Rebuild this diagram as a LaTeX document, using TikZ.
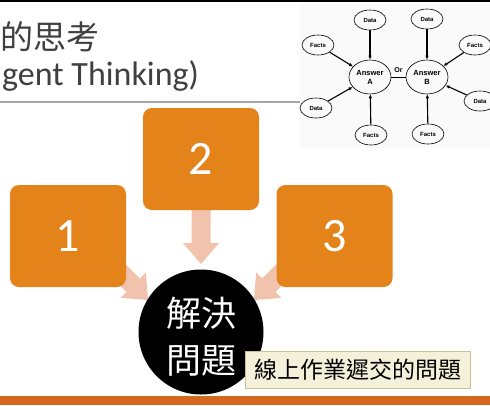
\documentclass[tikz,border=0pt]{standalone}
\usepackage{fontspec}
\setmainfont{Carlito}
\newfontfamily\cjk{Noto Sans CJK TC}
\newfontfamily\minifont{Liberation Sans}
\usetikzlibrary{arrows.meta,positioning,shapes.geometric}
\definecolor{boxorange}{HTML}{E4831A}
\definecolor{arrowpink}{HTML}{F1C3AD}
\definecolor{titlegray}{HTML}{404040}
\definecolor{notefill}{HTML}{F4F0D9}
\definecolor{noteline}{HTML}{C9C38E}
\definecolor{barorange}{HTML}{D3691F}

\tikzset{
  numbox/.style={fill=boxorange, rounded corners=9pt, minimum width=116pt, minimum height=102pt, text=white, font=\fontsize{48}{48}\selectfont},
  answer/.style={draw, ellipse, line width=0.6pt, minimum width=42pt, minimum height=34pt, inner sep=0pt, align=center, font=\minifont\bfseries\fontsize{7.5}{9}\selectfont},
  leaf/.style={draw, ellipse, line width=0.6pt, minimum width=32pt, minimum height=20pt, inner sep=0pt, font=\minifont\bfseries\fontsize{6}{6}\selectfont},
  feed/.style={line width=1.1pt, -{Latex[length=4pt,width=3.5pt]}},
  fatarrow/.pic={\fill[arrowpink] (-62,-9.5) -- (-21,-9.5) -- (-21,-18) -- (0,0) -- (-21,18) -- (-21,9.5) -- (-62,9.5) -- cycle;}
}

\begin{document}
\begin{tikzpicture}[x=1pt,y=-1pt]
\useasboundingbox (0,0) rectangle (490,405);
\clip (0,0) rectangle (490,405);
% title
\draw[line width=2.5pt] (0,1) -- (490,1);
\node[anchor=west, inner sep=0pt, text=titlegray, font=\cjk\fontsize{33}{33}\selectfont] (title) at (0,37) {的思考};
\node[anchor=base west, inner sep=0pt, text=titlegray, font=\fontsize{34}{34}\selectfont] (subtitle) at (2,85) {gent Thinking)};
\draw[gray!70, line width=1.2pt] (0,102) -- (300,102);
% small picture top right
\fill[black!2] (300,4) rectangle (490,148);
\node[answer] (ansA) at (370,77) {Answer\\A};
\node[answer] (ansB) at (427,77) {Answer\\B};
\draw[line width=0.9pt] (ansA) -- node[above=1pt, font=\minifont\bfseries\fontsize{7}{7}\selectfont] {Or} (ansB);
\node[leaf] (dA) at (370,20) {Data};
\node[leaf] (dB) at (427,19) {Data};
\node[leaf] (fL) at (318,45) {Facts};
\node[leaf] (dL) at (316,108) {Data};
\node[leaf] (fA) at (371,135) {Facts};
\node[leaf] (fB) at (428,134) {Facts};
\node[leaf] (fR) at (475,45) {Facts};
\node[leaf] (dR) at (480,101) {Data};
\foreach \a in {dA,fL,dL,fA} \draw[feed] (\a) -- (ansA);
\foreach \b in {dB,fR,dR,fB} \draw[feed] (\b) -- (ansB);
% big arrows
\pic[rotate=-90] at (201,264) {fatarrow};
\pic[rotate=-45] at (148,300) {fatarrow};
\pic[rotate=-135] at (254,300) {fatarrow};
% boxes
\node[numbox] (n2) at (201,159) {2};
\node[numbox] (n1) at (68,236) {1};
\node[numbox] (n3) at (334.5,236) {3};
% center
\node[circle, fill=black, minimum size=125pt] (solve) at (201,332) {};
\node[text=white, align=center, inner sep=0pt, font=\cjk\fontsize{35}{47}\selectfont] (solvetext) at (201,337) {解決\\問題};
\node[draw=noteline, fill=notefill, line width=1pt, minimum width=225pt, minimum height=37pt, font=\cjk\fontsize{23}{23}\selectfont] (note) at (357.5,369.5) {線上作業遲交的問題};
\fill[barorange] (0,396) rectangle (490,405);
\end{tikzpicture}
\end{document}
